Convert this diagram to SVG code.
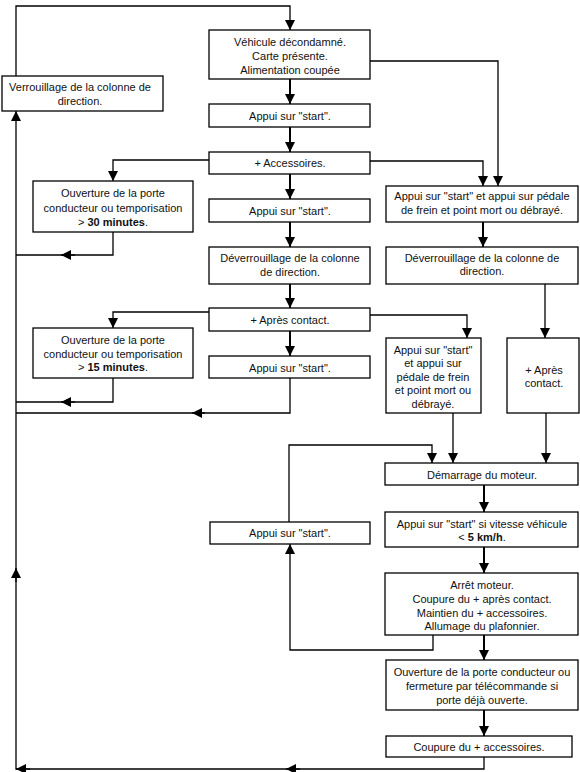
<svg xmlns="http://www.w3.org/2000/svg" width="580" height="772" viewBox="0 0 580 772">
<style>
.box{fill:#fff;stroke:#000;stroke-width:1.3}
.c{fill:none;stroke:#000;stroke-width:1.3}
.t{stroke-width:2}
text{font-family:"Liberation Sans",Arial,sans-serif;font-size:11px;fill:#111;text-anchor:middle}
.b{font-weight:bold}
</style>
<defs>
<marker id="a" markerUnits="userSpaceOnUse" markerWidth="10" markerHeight="10" viewBox="0 0 10 10" refX="10" refY="5" orient="auto">
<path d="M0,0 L10,5 L0,10 z" fill="#000"/>
</marker>
</defs>
<rect width="580" height="772" fill="#fff"/>
<g id="connectors">
<path class="c" d="M16 76 V6 H290 V30" marker-end="url(#a)"/>
<path class="c t" d="M290 79 V104" marker-end="url(#a)"/>
<path class="c t" d="M290 127 V152" marker-end="url(#a)"/>
<path class="c t" d="M290 174 V199" marker-end="url(#a)"/>
<path class="c t" d="M290 222 V247" marker-end="url(#a)"/>
<path class="c t" d="M290 284 V308" marker-end="url(#a)"/>
<path class="c t" d="M290 331 V356" marker-end="url(#a)"/>
<path class="c" d="M370 61 H498 V186" marker-end="url(#a)"/>
<path class="c" d="M209 160 H113 V181" marker-end="url(#a)"/>
<path class="c" d="M370 161 H483 V186" marker-end="url(#a)"/>
<path class="c" d="M113 232 V255 H16"/>
<path class="c" d="M75 255 H61" marker-end="url(#a)"/>
<path class="c t" d="M483 222 V247" marker-end="url(#a)"/>
<path class="c" d="M209 312 H113 V328" marker-end="url(#a)"/>
<path class="c" d="M370 315 H467 V338" marker-end="url(#a)"/>
<path class="c" d="M545 284 V338" marker-end="url(#a)"/>
<path class="c" d="M113 378 V402 H16"/>
<path class="c" d="M75 402 H61" marker-end="url(#a)"/>
<path class="c" d="M290 378 V413 H16"/>
<path class="c" d="M205 413 H192" marker-end="url(#a)"/>
<path class="c" d="M453 413 V463" marker-end="url(#a)"/>
<path class="c" d="M546 413 V463" marker-end="url(#a)"/>
<path class="c" d="M289 522 V445 H432 V463" marker-end="url(#a)"/>
<path class="c t" d="M484 485 V512" marker-end="url(#a)"/>
<path class="c t" d="M484 547 V573" marker-end="url(#a)"/>
<path class="c t" d="M484 635 V660" marker-end="url(#a)"/>
<path class="c t" d="M484 710 V736" marker-end="url(#a)"/>
<path class="c" d="M433 635 V650 H290 V544" marker-end="url(#a)"/>
<path class="c" d="M484 757 V769 H16 V111" marker-end="url(#a)"/>
<path class="c" d="M300 769 H286" marker-end="url(#a)"/>
<path class="c" d="M30 769 H16" marker-end="url(#a)"/>
<path class="c" d="M16 582 V568" marker-end="url(#a)"/>
</g>
<g id="n-vehicule"><rect class="box" x="209" y="30" width="161" height="49"/><text x="290" y="46">Véhicule décondamné.</text><text x="290" y="60">Carte présente.</text><text x="290" y="74">Alimentation coupée</text></g>
<g id="n-verrouillage"><rect class="box" x="2" y="76" width="161" height="35"/><text x="80" y="91">Verrouillage de la colonne de</text><text x="80" y="105">direction.</text></g>
<g id="n-appui1"><rect class="box" x="209" y="104" width="161" height="23"/><text x="290" y="120">Appui sur "start".</text></g>
<g id="n-accessoires"><rect class="box" x="209" y="152" width="161" height="22"/><text x="290" y="167">+ Accessoires.</text></g>
<g id="n-30min"><rect class="box" x="33" y="181" width="160" height="51"/><text x="113" y="197">Ouverture de la porte</text><text x="113" y="212">conducteur ou temporisation</text><text x="113" y="226">&gt; <tspan class="b">30 minutes</tspan>.</text></g>
<g id="n-appui2"><rect class="box" x="209" y="199" width="161" height="23"/><text x="290" y="215">Appui sur "start".</text></g>
<g id="n-pedale1"><rect class="box" x="386" y="186" width="192" height="36"/><text x="482" y="200">Appui sur "start" et appui sur pédale</text><text x="482" y="214">de frein et point mort ou débrayé.</text></g>
<g id="n-deverr-mid"><rect class="box" x="209" y="247" width="161" height="37"/><text x="290" y="262">Déverrouillage de la colonne</text><text x="290" y="276">de direction.</text></g>
<g id="n-deverr-right"><rect class="box" x="386" y="247" width="192" height="37"/><text x="482" y="262">Déverrouillage de la colonne de</text><text x="482" y="275">direction.</text></g>
<g id="n-apres"><rect class="box" x="209" y="308" width="161" height="23"/><text x="290" y="324">+ Après contact.</text></g>
<g id="n-15min"><rect class="box" x="33" y="328" width="160" height="50"/><text x="113" y="344">Ouverture de la porte</text><text x="113" y="358">conducteur ou temporisation</text><text x="113" y="371">&gt; <tspan class="b">15 minutes</tspan>.</text></g>
<g id="n-appui3"><rect class="box" x="209" y="356" width="161" height="22"/><text x="290" y="372">Appui sur "start".</text></g>
<g id="n-pedale2"><rect class="box" x="386" y="338" width="95" height="75"/><text x="433" y="354">Appui sur "start"</text><text x="433" y="367">et appui sur</text><text x="433" y="381">pédale de frein</text><text x="433" y="394">et point mort ou</text><text x="433" y="408">débrayé.</text></g>
<g id="n-apres-right"><rect class="box" x="507" y="338" width="72" height="75"/><text x="544" y="374">+ Après</text><text x="544" y="387">contact.</text></g>
<g id="n-demarrage"><rect class="box" x="385" y="463" width="193" height="22"/><text x="482" y="479">Démarrage du moteur.</text></g>
<g id="n-appui-left"><rect class="box" x="210" y="522" width="160" height="22"/><text x="290" y="537">Appui sur "start".</text></g>
<g id="n-vitesse"><rect class="box" x="385" y="512" width="193" height="35"/><text x="482" y="528">Appui sur "start" si vitesse véhicule</text><text x="482" y="541">&lt; <tspan class="b">5 km/h</tspan>.</text></g>
<g id="n-arret"><rect class="box" x="385" y="573" width="193" height="62"/><text x="482" y="589">Arrêt moteur.</text><text x="482" y="603">Coupure du + après contact.</text><text x="482" y="617">Maintien du + accessoires.</text><text x="482" y="630">Allumage du plafonnier.</text></g>
<g id="n-ouverture"><rect class="box" x="386" y="660" width="192" height="50"/><text x="482" y="676">Ouverture de la porte conducteur ou</text><text x="482" y="690">fermeture par télécommande si</text><text x="482" y="704">porte déjà ouverte.</text></g>
<g id="n-coupure"><rect class="box" x="386" y="736" width="186" height="21"/><text x="479" y="751">Coupure du + accessoires.</text></g>
</svg>
